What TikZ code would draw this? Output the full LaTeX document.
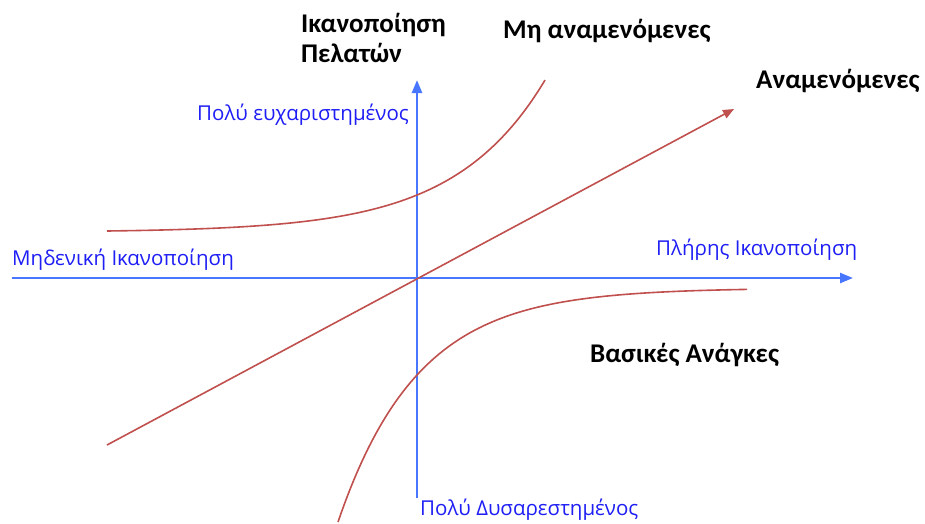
\documentclass[tikz,border=0pt]{standalone}
\usepackage{fontspec}
\setmainfont{Carlito}
\newfontfamily\lblfont{Open Sans}
\usetikzlibrary{arrows.meta}
\definecolor{axisblue}{RGB}{72,118,255}
\definecolor{curvered}{RGB}{192,80,77}
\definecolor{textblue}{RGB}{30,30,245}
\tikzset{
  axisline/.style={draw=axisblue, line width=2.4pt, -{Triangle[length=13pt,width=10pt]}},
  curveline/.style={draw=curvered, line width=1.6pt},
  curvearrow/.style={draw=curvered, line width=1.6pt, -{Triangle[length=11pt,width=9pt]}},
  bluelabel/.style={anchor=base west, inner sep=0pt, text=textblue, font=\lblfont\fontsize{20.5}{24}\selectfont},
  boldlabel/.style={anchor=base west, inner sep=0pt, text=black, font=\bfseries\fontsize{27}{31}\selectfont},
}
\begin{document}
\begin{tikzpicture}[x=1pt,y=-1pt]
\useasboundingbox (0,0) rectangle (925,523);
% axes
\coordinate (hl) at (12,278);
\coordinate (hr) at (853,278);
\coordinate (vb) at (417,498);
\coordinate (vt) at (417,80);
\draw[axisline] (hl) -- (hr);
\draw[axisline] (vb) -- (vt);
% expected (linear)
\coordinate (l0) at (107,445);
\coordinate (l1) at (734,109);
\draw[curvearrow] (l0) -- (l1);
% unexpected (upper curve)
\draw[curveline] plot[domain=107:545, samples=120] (\x, {231-1.229*(exp(0.011*(\x-107))-1)});
% basic needs (lower curve)
\draw[curveline] plot[domain=338:747, samples=120] (\x, {288+234*exp(-0.01253*(\x-338))});
% labels
\node[boldlabel] (t1) at (301,32) {Ικανοποίηση};
\node[boldlabel] (t2) at (301,62) {Πελατών};
\node[boldlabel] (t3) at (503,38) {Μη αναμενόμενες};
\node[boldlabel] (t4) at (756,88) {Αναμενόμενες};
\node[boldlabel] (t5) at (590,362) {Βασικές Ανάγκες};
\node[bluelabel] (s1) at (197,120) {Πολύ ευχαριστημένος};
\node[bluelabel] (s2) at (12,265) {Μηδενική Ικανοποίηση};
\node[bluelabel] (s3) at (656,255) {Πλήρης Ικανοποίηση};
\node[bluelabel] (s4) at (420,515) {Πολύ Δυσαρεστημένος};
\end{tikzpicture}
\end{document}
